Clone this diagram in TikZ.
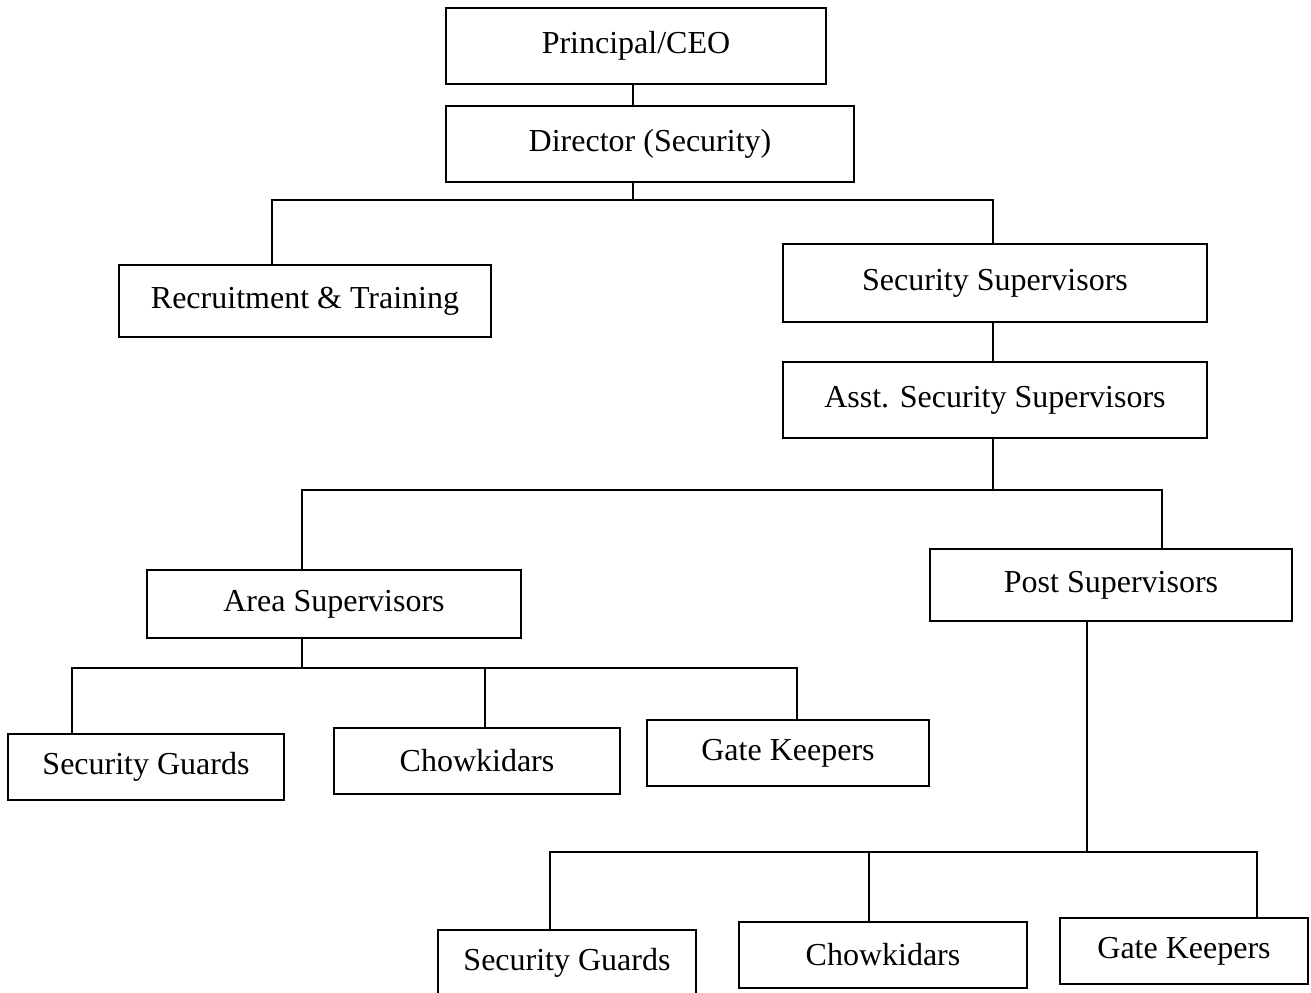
\documentclass[tikz,border=0pt]{standalone}
\usepackage{fontspec}
\setmainfont{Liberation Serif}
\usetikzlibrary{positioning}
\begin{document}
\begin{tikzpicture}[x=0.5pt,y=-0.5pt,line width=1pt]
  \tikzstyle{post}=[draw,rectangle,inner sep=0pt,font=\fontsize{16}{19}\selectfont]
  \useasboundingbox (0,0) rectangle (1311,992);

  % top of the chart
  \node[post,minimum width=190pt,minimum height=38pt] (ceo) at (636,46)  {Principal/CEO};
  \node[post,minimum width=204pt,minimum height=38pt] (dir) at (650,144) {Director (Security)};
  \node[post,minimum width=186pt,minimum height=36pt] (rec) at (305,301) {Recruitment \& Training};
  \node[post,minimum width=212pt,minimum height=39pt] (ss)  at (995,283) {Security Supervisors};
  \node[post,minimum width=212pt,minimum height=38pt] (ass) at (995,400) {Asst. Security Supervisors};

  % supervisors
  \node[post,minimum width=187pt,minimum height=34pt] (area) at (334,604)  {Area Supervisors};
  \node[post,minimum width=181pt,minimum height=36pt] (ps)   at (1111,585) {Post Supervisors};

  % staff under area supervisors
  \node[post,minimum width=138pt,minimum height=33pt] (sg1) at (146,767) {Security Guards};
  \node[post,minimum width=143pt,minimum height=33pt] (ch1) at (477,761) {Chowkidars};
  \node[post,minimum width=141pt,minimum height=33pt] (gk1) at (788,753) {Gate Keepers};

  % staff under post supervisors
  \node[post,minimum width=129pt,minimum height=33pt] (sg2) at (567,963) {Security Guards};
  \node[post,minimum width=144pt,minimum height=33pt] (ch2) at (883,955) {Chowkidars};
  \node[post,minimum width=124pt,minimum height=33pt] (gk2) at (1184,951) {Gate Keepers};

  % junctions
  \coordinate (b1) at (633,200);
  \coordinate (b2) at (993,490);
  \coordinate (b3) at (302,668);
  \coordinate (b4) at (1087,852);

  \draw (b1 |- ceo.south) -- (b1 |- dir.north);
  \draw (b1 |- dir.south) -- (b1);
  \draw (b1) -| (272,0 |- rec.north);
  \draw (b1) -| (993,0 |- ss.north);
  \draw (993,0 |- ss.south) -- (993,0 |- ass.north);

  \draw (b2 |- ass.south) -- (b2);
  \draw (b2) -| (b3 |- area.north);
  \draw (b2) -| (1162,0 |- ps.north);

  \draw (b3 |- area.south) -- (b3);
  \draw (b3) -| (72,0 |- sg1.north);
  \draw (b3) -| (485,0 |- ch1.north);
  \draw (b3) -| (797,0 |- gk1.north);

  \draw (b4 |- ps.south) -- (b4);
  \draw (b4) -| (550,0 |- sg2.north);
  \draw (b4) -| (869,0 |- ch2.north);
  \draw (b4) -| (1257,0 |- gk2.north);
\end{tikzpicture}
\end{document}
